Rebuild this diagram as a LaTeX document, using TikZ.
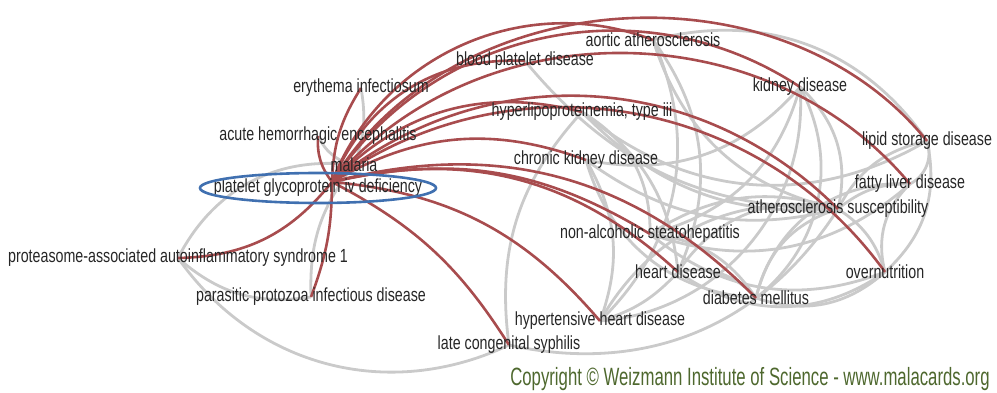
\documentclass[tikz,border=0pt]{standalone}
\usepackage{fontspec}
\setmainfont{Liberation Sans}
\usetikzlibrary{calc,backgrounds}

\definecolor{edgered}{RGB}{168,76,78}
\definecolor{edgegrey}{RGB}{202,202,202}
\definecolor{ringblue}{RGB}{64,112,176}
\definecolor{copygreen}{RGB}{78,104,46}

\tikzset{
  disease/.style={inner sep=1pt, text=black!85, font=\fontsize{19}{22}\selectfont},
  rededge/.style={draw=edgered, line width=2.6pt},
  greyedge/.style={draw=edgegrey, line width=2.8pt},
}
\newcommand{\narrow}[2][0.75]{\scalebox{#1}[1]{#2}}

\begin{document}
\begin{tikzpicture}[x=1pt,y=-1pt]
  \useasboundingbox (0,0) rectangle (997,393);

  %% Disease labels (pixel positions)
  \foreach \name/\x/\y/\txt in {
      AA/653/40/aortic atherosclerosis,
      BP/525/61/blood platelet disease,
      EI/361/88/erythema infectiosum,
      KD/800/87/kidney disease,
      HL/582/112/{hyperlipoproteinemia, type iii},
      AH/318/136/acute hemorrhagic encephalitis,
      LS/927/141/lipid storage disease,
      MA/354/165/malaria,
      CK/586/160/chronic kidney disease,
      PG/318/188/platelet glycoprotein iv deficiency,
      FL/910/184/fatty liver disease,
      AS/838/209/atherosclerosis susceptibility,
      NA/650/234/non-alcoholic steatohepatitis,
      PR/178/258/proteasome-associated autoinflammatory syndrome 1,
      HD/678/272/heart disease,
      OV/885/272/overnutrition,
      PP/311/297/parasitic protozoa infectious disease,
      DM/756/298/diabetes mellitus,
      HH/600/321/hypertensive heart disease,
      LC/509/345/late congenital syphilis}
    \node[disease] (\name) at (\x,\y) {\narrow{\txt}};

  \coordinate (hub) at ($(PG.north)+(14,4)$);

  \begin{scope}[on background layer]
    %% Grey links between the related diseases
    \foreach \a/\b/\bend in {
        AS/AA/30, AS/HL/25, AS/KD/-30, AS/LS/25, AS/FL/20, AS/NA/-25,
        AS/HD/-35, AS/OV/20, AS/DM/-30, AS/CK/25, AS/HH/-35, AS/BP/25,
        KD/CK/30, KD/DM/40, KD/HH/45, KD/NA/30, LS/FL/40, LS/OV/30,
        LS/HL/35, FL/NA/30, FL/OV/-30, FL/DM/-40, HD/HH/15, HD/DM/30,
        DM/OV/-30, NA/DM/25, NA/OV/-30, AA/HD/30, HL/HD/25, AA/HH/35,
        CK/HH/25, CK/DM/-35, HL/NA/30, AA/LS/35, HD/OV/-35, LC/AS/-35,
        LC/HL/25, PR/MA/35, PR/PP/-25, PR/LC/-40, PP/MA/20, EI/MA/15,
        AH/MA/-25}
      \draw[greyedge] (\a.center) to[bend left=\bend] (\b.center);

    %% Red links from the selected disease
    \foreach \b/\bend in {
        AA/45, BP/35, EI/15, KD/45, HL/30, AH/20, LS/55, MA/10, CK/25,
        FL/50, AS/42, NA/22, HD/28, OV/45, HH/22, LC/15, DM/30, PR/25,
        PP/10}
      \draw[rededge] (hub) to[bend left=\bend] (\b.center);
  \end{scope}

  \draw[ringblue, line width=2.6pt] (PG.center) ellipse [x radius=118pt, y radius=15pt];

  \node[text=copygreen, font=\fontsize{25}{28}\selectfont] (CR) at (750,379)
    {\narrow[0.67]{Copyright © Weizmann Institute of Science - www.malacards.org}};
\end{tikzpicture}
\end{document}
